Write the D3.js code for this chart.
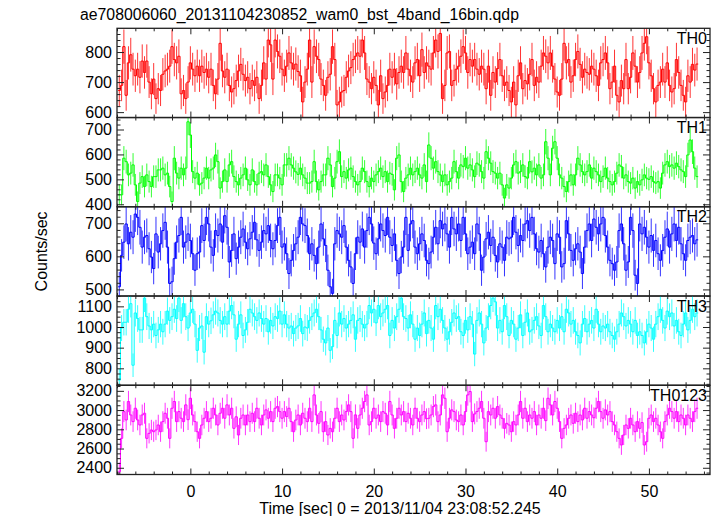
<!DOCTYPE html>
<html><head><meta charset="utf-8">
<script src="https://cdn.jsdelivr.net/npm/d3@7"></script>
<style>body{margin:0;background:#fff}svg text{font-family:"Liberation Sans",Arial,Helvetica,sans-serif;}</style>
</head><body>
<svg id="c" width="717" height="516"></svg>
<script>
const title = "ae708006060_20131104230852_wam0_bst_4band_16bin.qdp";
const xLabel = "Time [sec] 0 = 2013/11/04 23:08:52.245";
const yLabel = "Counts/sec";
const panelNames = ["TH0","TH1","TH2","TH3","TH0123"];
const tStart = -7.875, binWidth = 0.25;
const xMajorTicks = [0,10,20,30,40,50];

const th0 = [
672,689,818,656,764,791,743,721,743,716,
770,732,770,700,661,710,645,678,672,726,
737,743,753,818,775,764,786,661,672,645,
700,764,743,721,753,721,753,732,743,716,
743,689,661,710,829,737,716,743,689,667,
678,705,737,759,726,705,716,678,705,689,
716,645,689,764,710,840,824,710,840,802,
786,743,721,753,797,764,743,760,735,
721,634,700,743,840,700,818,786,775,710,
689,656,716,726,818,775,624,634,667,672,
716,737,748,775,786,797,786,840,797,710,
700,678,716,689,624,721,645,667,689,743,
716,743,694,732,753,732,797,743,721,700,
764,775,721,808,732,764,753,743,797,840,
802,862,645,689,797,802,689,705,743,753,
786,818,797,732,775,753,775,743,726,753,
743,678,753,656,732,700,745,
775,721,689,700,672,634,700,624,721,764,
678,705,694,726,775,689,716,700,753,797,
786,764,797,753,710,667,656,710,829,764,
775,700,721,775,802,759,716,743,732,726,
753,743,721,689,764,775,797,764,678,700,
753,656,634,705,678,775,678,716,797,753,
700,732,797,829,851,764,721,678,634,689,
700,743,700,764,689,667,678,775,732,689,
656,634,721,700,759,740,760];

const th1 = [
438,438,585,571,518,525,558,478,411,485,
511,471,518,491,471,511,511,538,538,545,
518,525,471,411,585,525,505,545,518,545,
731,678,531,505,525,478,485,505,545,505,
538,545,598,571,465,491,538,491,558,571,
511,491,478,505,518,545,498,478,538,491,
478,525,531,518,558,511,478,451,518,518,
505,478,558,558,585,558,545,530,520,
545,518,505,485,485,491,571,491,458,491,
518,518,585,558,471,505,571,611,511,531,
505,538,545,511,491,478,491,545,531,491,
471,505,491,518,531,545,511,531,491,525,520,
458,585,598,491,451,505,518,545,518,531,
545,518,505,558,491,638,585,545,571,531,
518,491,518,478,491,505,571,531,505,558,
551,585,545,558,538,511,565,558,531,505,
611,585,565,531,525,505,525,478,425,478,
465,505,558,571,525,531,558,511,505,571,530,
545,518,558,505,518,651,585,518,625,651,
585,518,505,471,451,491,518,478,518,585,
558,531,518,531,558,505,545,531,518,491,
511,545,505,491,478,491,525,558,551,505,
518,491,485,505,465,491,478,498,518,505,500,
511,491,485,491,465,525,558,571,551,558,
545,565,551,538,531,511,598,658,611,545,
511];

const th2 = [
508,603,643,698,638,673,658,728,718,688,
628,658,663,623,598,563,668,613,638,678,
703,628,518,523,593,643,663,718,628,643,
668,648,608,558,608,613,693,648,718,698,
628,603,678,663,698,643,723,688,583,618,
668,593,628,658,683,643,623,653,673,703,650,
618,643,678,668,693,648,623,648,693,718,
628,638,608,548,588,618,638,658,718,698,
693,663,608,638,603,578,628,698,653,633,
558,508,488,638,678,668,658,693,628,588,
568,518,608,658,643,683,628,678,718,698,640,
608,653,698,678,663,718,658,633,668,588,
548,598,628,718,
618,698,708,628,608,638,668,648,588,578,
613,658,688,638,708,683,698,668,628,718,
683,668,698,648,718,668,608,628,643,608,
698,668,558,598,653,673,633,658,603,583,
638,628,588,658,653,658,718,673,633,663,
648,698,708,678,718,668,623,613,648,608,
568,628,658,648,578,668,658,568,578,708,
668,618,588,623,638,613,548,628,678,698,
648,713,688,668,698,718,663,628,588,578,
558,583,678,698,638,558,583,718,678,543,
518,698,668,688,658,628,663,618,648,608,
588,618,658,683,628,668,698,648,688,638,
608,588,648,658,663,638,650];

const th3 = [
743,995,1023,1023,1086,1113,815,1068,1041,986,
986,1140,1050,1005,986,1014,959,986,1014,977,
1014,1077,1032,1050,1086,1041,1140,1032,1113,1050,
995,1068,1086,1014,887,995,1005,878,1050,1014,1030,
1059,1077,1068,1032,1014,1050,1014,1077,1104,1059,
941,1014,1059,959,986,1023,1086,1068,1050,1032,
1068,1041,1014,1041,977,1032,1005,1050,1041,1077,
1014,1059,1014,995,1005,968,995,1005,1041,968,1000,
995,1032,1050,1068,1086,1050,986,941,923,995,
887,905,1032,959,1068,1014,1041,995,1014,1032,
1059,941,1032,1041,1014,995,1014,1104,1068,1086,1020,
1104,1050,1068,1086,1104,959,1032,995,1050,1086,
1140,1050,1041,995,
1059,1014,941,995,959,1014,1068,968,1032,995,
941,1104,1050,1086,1032,995,941,977,1023,1068,
1041,1050,977,959,1032,986,1050,1014,869,1032,
1068,1014,923,995,1050,1104,1140,1122,995,1032,
977,1104,1050,959,1032,1014,941,995,1059,959,
1023,1068,977,986,1032,1050,1005,959,1104,1050,
977,1014,995,977,1032,995,1050,977,1086,1068,
1014,1032,977,959,923,1014,1041,977,1014,1032,
995,1086,1014,977,1005,995,1014,977,959,941,
977,1014,1068,1050,1005,1032,1014,977,1032,959,
977,959,923,977,1014,995,941,1014,1050,1086,
1032,995,1077,1050,1068,1005,1032,977,959,1014,
1068,986,1032,1086,1050,1068];

const th0123 = [
2358,2706,2984,2897,3089,2949,2880,3019,2897,2845,
2949,2967,2706,2758,2793,2775,2793,2845,2775,2880,
2967,2915,2706,3019,3089,2880,2984,2915,2880,3054,2900,
3123,2949,2880,2775,2706,2845,2915,2984,2880,2915,
3019,2949,2845,2967,3019,2915,3054,2949,3019,2810,2930,
2741,2915,2949,2845,2949,2880,2967,2880,3019,2915,
2845,2949,3002,2915,2984,2880,3019,3036,2984,2915,
2984,2932,3019,2880,2775,2897,2949,2845,2967,2915,2880,
3019,2880,3158,2949,2862,2984,2775,2880,2741,2810,
2775,2915,3019,2880,2949,2897,2984,3054,2984,2706,2950,
2810,2949,3019,3089,3158,2845,2880,3019,2915,2949,
2880,2984,2967,2845,3089,2949,2810,2915,3019,2949,
2984,2880,2967,2915,2845,3019,2915,2880,2949,2984,2910,
2915,2949,3036,3054,2880,2949,3158,3123,2775,2915,
3002,2984,2897,2880,2949,2845,2984,3158,3193,2880,2960,
2984,3019,3089,2915,2671,2984,2949,3019,2915,3036,
2949,2915,2810,2862,2845,2775,2880,2845,2949,3089,
2915,3019,2880,2949,2915,2984,2845,2949,2915,3019,2890,
3123,3054,2949,3089,3019,2880,2706,2810,2845,2915,
2949,2862,2967,2880,2949,2897,3019,2915,2984,2949,2920,
3019,3089,2984,2915,3002,2949,2984,2880,2845,2775,
2706,2637,2741,2845,2810,2915,2845,2775,2880,2810,2870,
2637,2671,2915,2949,2880,2915,2845,2775,2706,2880,
2949,3019,2984,2915,2984,2880,2949,2915,2845,2949,
2915,2880,2984,3019];

const series = [th0, th1, th2, th3, th0123];
const colors = ["#ff0000","#00ff00","#0000ff","#00ffff","#ff00ff"];
const yDomains = [[582,879],[390,748],[480,750],[718,1150],[2330,3258]];
const yMajorTicks = [[600,700,800],[400,500,600,700],[500,600,700],[800,900,1000,1100],[2400,2600,2800,3000,3200]];
const yMinorStep = [20,20,20,25,50];

const svg = d3.select("#c");
const frameLeft = 117, frameRight = 710, frameTop = 28.3, frameBottom = 474.5;
const x = d3.scaleLinear().domain([-8.0, 56.66]).range([frameLeft, frameRight]);
const ph = (frameBottom - frameTop) / series.length;
const FS = 16;
const xMinor = d3.range(-8, 57, 2).filter(v => !xMajorTicks.includes(v));

series.forEach((vals, k) => {
  const top = frameTop + k * ph, bot = top + ph;
  const y = d3.scaleLinear().domain(yDomains[k]).range([bot, top]);
  const cid = "clip" + k;
  svg.append("clipPath").attr("id", cid).append("rect")
    .attr("x", frameLeft).attr("y", top).attr("width", frameRight - frameLeft).attr("height", ph);
  const g = svg.append("g").attr("clip-path", `url(#${cid})`);
  const pts = vals.map((v, i) => [tStart + i * binWidth, v]);
  pts.push([tStart + vals.length * binWidth, vals[vals.length - 1]]);
  const line = d3.line().x(d => x(d[0])).y(d => y(d[1])).curve(d3.curveStepAfter);
  g.selectAll("line.err").data(vals).join("line").attr("class", "err")
    .attr("x1", (v, i) => x(tStart + (i + 0.5) * binWidth))
    .attr("x2", (v, i) => x(tStart + (i + 0.5) * binWidth))
    .attr("y1", v => y(v - Math.sqrt(v / binWidth)))
    .attr("y2", v => y(v + Math.sqrt(v / binWidth)))
    .attr("stroke", colors[k]).attr("stroke-width", 1).attr("stroke-opacity", 0.8);
  g.append("path").attr("d", line(pts)).attr("fill", "none")
    .attr("stroke", colors[k]).attr("stroke-width", 1);

  const minorY = d3.range(Math.ceil(yDomains[k][0] / yMinorStep[k]) * yMinorStep[k], yDomains[k][1], yMinorStep[k])
    .filter(v => !yMajorTicks[k].includes(v));
  svg.append("g").attr("transform", `translate(${frameLeft},0)`)
    .call(d3.axisLeft(y).tickValues(yMajorTicks[k]).tickSizeInner(-7).tickSizeOuter(0).tickPadding(5).tickFormat(d3.format("d")));
  svg.append("g").attr("transform", `translate(${frameLeft},0)`)
    .call(d3.axisLeft(y).tickValues(minorY).tickSizeInner(-3.5).tickSizeOuter(0).tickFormat(""));
  svg.append("g").attr("transform", `translate(${frameRight},0)`)
    .call(d3.axisRight(y).tickValues(yMajorTicks[k]).tickSizeInner(-7).tickSizeOuter(0).tickFormat(""));
  svg.append("g").attr("transform", `translate(${frameRight},0)`)
    .call(d3.axisRight(y).tickValues(minorY).tickSizeInner(-3.5).tickSizeOuter(0).tickFormat(""));

  const isLast = k === series.length - 1;
  svg.append("g").attr("transform", `translate(0,${bot})`)
    .call(d3.axisBottom(x).tickValues(xMajorTicks).tickSizeInner(-6).tickSizeOuter(0).tickPadding(11)
      .tickFormat(isLast ? d3.format("d") : ""));
  svg.append("g").attr("transform", `translate(0,${bot})`)
    .call(d3.axisBottom(x).tickValues(xMinor).tickSizeInner(-3).tickSizeOuter(0).tickFormat(""));
  svg.append("g").attr("transform", `translate(0,${top})`)
    .call(d3.axisTop(x).tickValues(xMajorTicks).tickSizeInner(-6).tickSizeOuter(0).tickFormat(""));
  svg.append("g").attr("transform", `translate(0,${top})`)
    .call(d3.axisTop(x).tickValues(xMinor).tickSizeInner(-3).tickSizeOuter(0).tickFormat(""));

  svg.append("text").attr("x", 707).attr("y", top + 15.5).attr("text-anchor", "end")
    .attr("font-size", FS).attr("fill", "#000").text(panelNames[k]);
  svg.append("rect").attr("x", frameLeft).attr("y", top).attr("width", frameRight - frameLeft).attr("height", ph)
    .attr("fill", "none").attr("stroke", "#222").attr("stroke-width", 1.3);
});

svg.selectAll(".domain").remove();
svg.selectAll(".tick line").attr("stroke", "#222").attr("stroke-width", 1);
svg.selectAll(".tick text").attr("font-size", FS).attr("font-family", null).attr("fill", "#000");

svg.append("text").attr("x", 80).attr("y", 20).attr("font-size", 15.8).attr("fill", "#000").text(title);
svg.append("text").attr("x", 400).attr("y", 514).attr("text-anchor", "middle")
  .attr("font-size", FS).attr("fill", "#000").text(xLabel);
svg.append("text").attr("transform", `translate(47,${(frameTop + frameBottom) / 2}) rotate(-90)`)
  .attr("text-anchor", "middle").attr("font-size", FS).attr("fill", "#000").text(yLabel);
</script>
</body></html>
